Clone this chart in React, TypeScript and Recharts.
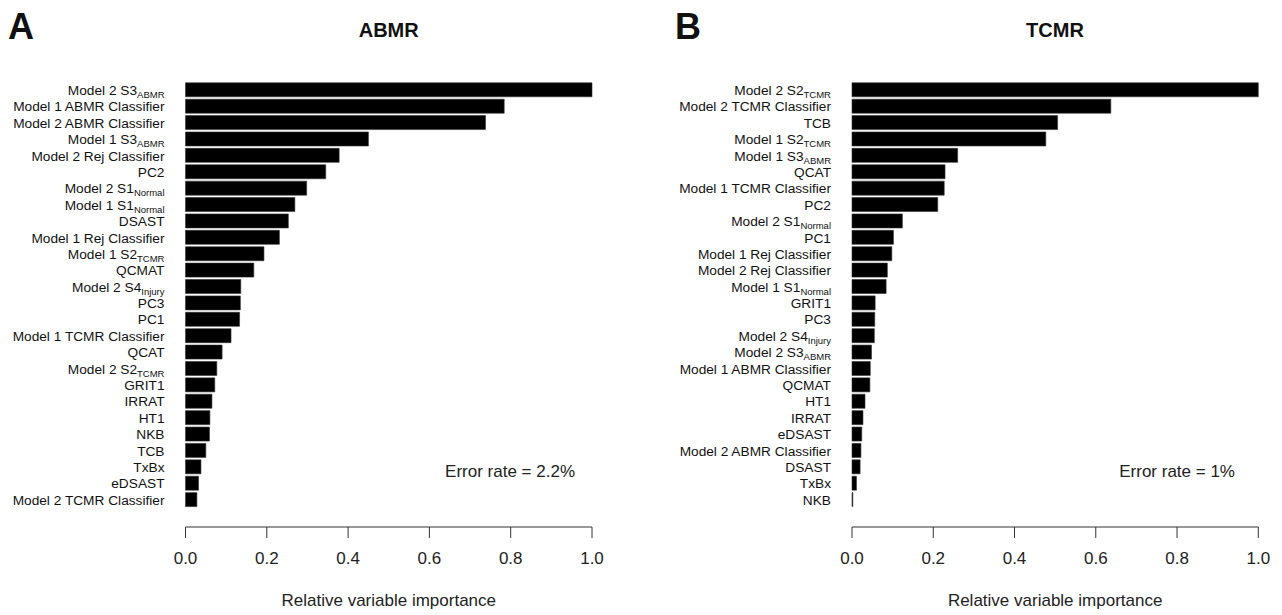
import { BarChart, Bar, XAxis, YAxis } from "recharts";

// names use "_" to mark a subscript part
const abmrNames = [
  "Model 2 S3_ABMR",
  "Model 1 ABMR Classifier",
  "Model 2 ABMR Classifier",
  "Model 1 S3_ABMR",
  "Model 2 Rej Classifier",
  "PC2",
  "Model 2 S1_Normal",
  "Model 1 S1_Normal",
  "DSAST",
  "Model 1 Rej Classifier",
  "Model 1 S2_TCMR",
  "QCMAT",
  "Model 2 S4_Injury",
  "PC3",
  "PC1",
  "Model 1 TCMR Classifier",
  "QCAT",
  "Model 2 S2_TCMR",
  "GRIT1",
  "IRRAT",
  "HT1",
  "NKB",
  "TCB",
  "TxBx",
  "eDSAST",
  "Model 2 TCMR Classifier",
];
const abmrValues = [
  1.0, 0.784, 0.738, 0.45, 0.378, 0.345, 0.298, 0.269, 0.253, 0.231, 0.193,
  0.168, 0.136, 0.135, 0.133, 0.112, 0.09, 0.077, 0.072, 0.065, 0.06, 0.059,
  0.05, 0.038, 0.032, 0.028,
];

const tcmrNames = [
  "Model 2 S2_TCMR",
  "Model 2 TCMR Classifier",
  "TCB",
  "Model 1 S2_TCMR",
  "Model 1 S3_ABMR",
  "QCAT",
  "Model 1 TCMR Classifier",
  "PC2",
  "Model 2 S1_Normal",
  "PC1",
  "Model 1 Rej Classifier",
  "Model 2 Rej Classifier",
  "Model 1 S1_Normal",
  "GRIT1",
  "PC3",
  "Model 2 S4_Injury",
  "Model 2 S3_ABMR",
  "Model 1 ABMR Classifier",
  "QCMAT",
  "HT1",
  "IRRAT",
  "eDSAST",
  "Model 2 ABMR Classifier",
  "DSAST",
  "TxBx",
  "NKB",
];
const tcmrValues = [
  1.0, 0.637, 0.506, 0.477, 0.26, 0.229, 0.227, 0.211, 0.124, 0.102, 0.098,
  0.087, 0.084, 0.057, 0.056, 0.055, 0.048, 0.045, 0.044, 0.032, 0.027, 0.024,
  0.022, 0.02, 0.011, 0.002,
];

const xTicks = [0, 0.2, 0.4, 0.6, 0.8, 1.0];

const FONT = "'Liberation Sans', Arial, Helvetica, sans-serif";

function NameTick(props: any) {
  const { x, y, payload } = props;
  const [main, sub] = String(payload.value).split("_");
  return (
    <text
      x={x}
      y={y}
      dy={5}
      textAnchor="end"
      fontSize={13.7}
      fontFamily={FONT}
      fill="#111"
    >
      {main}
      {sub && (
        <tspan fontSize={9.5} dy={3}>
          {sub}
        </tspan>
      )}
    </text>
  );
}

function Panel({
  names,
  values,
  width,
  labelWidth,
  right,
}: {
  names: string[];
  values: number[];
  width: number;
  labelWidth: number;
  right: number;
}) {
  const data = names.map((name, i) => ({ name, value: values[i] }));
  return (
    <BarChart
      width={width}
      height={615}
      data={data}
      layout="vertical"
      margin={{ top: 81.8, right, bottom: 0, left: 0 }}
    >
      <XAxis
        type="number"
        domain={[0, 1]}
        ticks={xTicks}
        tickFormatter={(v: number) => v.toFixed(1)}
        height={88}
        tickSize={11}
        tickMargin={14}
        stroke="#333"
        tick={{ fontSize: 17, fill: "#222", fontFamily: FONT }}
        label={{
          value: "Relative variable importance",
          position: "insideBottom",
          offset: 9,
          fontSize: 17,
          fill: "#222",
          fontFamily: FONT,
        }}
      />
      <YAxis
        type="category"
        dataKey="name"
        width={labelWidth}
        axisLine={false}
        tickLine={false}
        tickSize={0}
        tickMargin={21}
        interval={0}
        padding={{ top: 0, bottom: 19 }}
        tick={<NameTick />}
      />
      <Bar
        dataKey="value"
        fill="#000"
        stroke="#333"
        strokeWidth={0.6}
        barSize={14}
        isAnimationActive={false}
      />
    </BarChart>
  );
}

const textStyle = {
  position: "absolute" as const,
  fontFamily: FONT,
  color: "#111",
  lineHeight: 1,
  whiteSpace: "nowrap" as const,
};

export default function App() {
  return (
    <div
      style={{
        position: "absolute",
        left: 0,
        top: 0,
        width: 1282,
        height: 615,
        background: "#fff",
        overflow: "hidden",
      }}
    >
      <div style={{ position: "absolute", left: 0, top: 0 }}>
        <Panel
          names={abmrNames}
          values={abmrValues}
          width={640}
          labelWidth={185.5}
          right={48}
        />
      </div>
      <div style={{ position: "absolute", left: 640, top: 0 }}>
        <Panel
          names={tcmrNames}
          values={tcmrValues}
          width={642}
          labelWidth={212}
          right={23.7}
        />
      </div>

      <div style={{ ...textStyle, left: 8, top: 9, fontSize: 36, fontWeight: "bold" }}>A</div>
      <div style={{ ...textStyle, left: 675, top: 9, fontSize: 36, fontWeight: "bold" }}>B</div>

      <div
        style={{
          ...textStyle,
          left: 388.7,
          top: 20,
          transform: "translateX(-50%)",
          fontSize: 20,
          fontWeight: "bold",
        }}
      >
        ABMR
      </div>
      <div
        style={{
          ...textStyle,
          left: 1055,
          top: 20,
          transform: "translateX(-50%)",
          fontSize: 20,
          fontWeight: "bold",
        }}
      >
        TCMR
      </div>

      <div
        style={{
          ...textStyle,
          right: 1282 - 575,
          top: 463,
          fontSize: 17,
          color: "#222",
        }}
      >
        Error rate = 2.2%
      </div>
      <div
        style={{
          ...textStyle,
          right: 1282 - 1235,
          top: 463,
          fontSize: 17,
          color: "#222",
        }}
      >
        Error rate = 1%
      </div>
    </div>
  );
}
